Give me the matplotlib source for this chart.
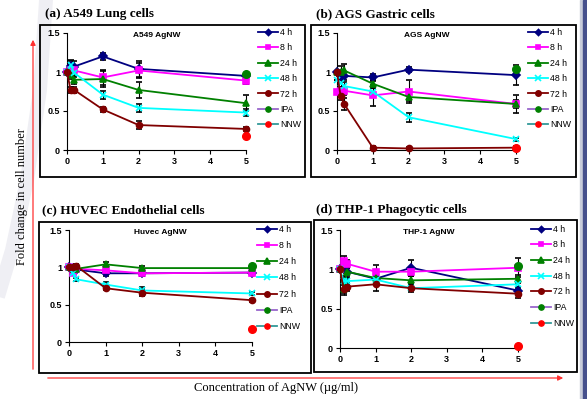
"""
Fold change in cell number vs AgNW concentration, four cell lines.
"""

import matplotlib.pyplot as plt
from matplotlib.lines import Line2D
from matplotlib.patches import Rectangle, FancyArrowPatch

W, H = 587, 399

conc = [0, 0.1, 0.2, 1, 2, 5]
times = ["4 h", "8 h", "24 h", "48 h", "72 h"]

# rows: 4 h, 8 h, 24 h, 48 h, 72 h
a549_mean = [
    [1.00, 1.08, 1.07, 1.20, 1.04, 0.95],
    [1.00, 1.03, 1.02, 0.93, 1.02, 0.89],
    [1.00, 0.96, 0.90, 0.91, 0.77, 0.60],
    [1.00, 1.09, 0.99, 0.71, 0.54, 0.48],
    [1.00, 0.77, 0.77, 0.52, 0.32, 0.27],
]
a549_err = [
    [0, 0.07, 0.07, 0.05, 0.10, 0.03],
    [0, 0.03, 0.03, 0.10, 0.10, 0.05],
    [0, 0.05, 0.05, 0.10, 0.10, 0.10],
    [0, 0.05, 0.05, 0.05, 0.05, 0.04],
    [0, 0.04, 0.04, 0.03, 0.05, 0.03],
]
a549_ipa = 0.97
a549_nnw = 0.18

ags_mean = [
    [1.00, 0.95, 0.95, 0.93, 1.03, 0.96],
    [0.75, 0.76, 0.76, 0.70, 0.75, 0.59],
    [1.00, 1.00, 1.02, 0.85, 0.68, 0.59],
    [0.90, 0.86, 0.82, 0.75, 0.42, 0.14],
    [1.00, 0.69, 0.59, 0.03, 0.02, 0.03],
]
ags_err = [
    [0, 0.05, 0.05, 0.05, 0.03, 0.13],
    [0, 0.05, 0.05, 0.13, 0.15, 0.05],
    [0, 0.08, 0.08, 0.05, 0.05, 0.12],
    [0, 0.05, 0.05, 0.05, 0.06, 0.02],
    [0, 0.05, 0.08, 0.02, 0.02, 0.02],
]
ags_ipa = 1.04
ags_nnw = 0.02

huvec_mean = [
    [1.00, 0.98, 0.97, 0.92, 0.92, 0.93],
    [1.00, 0.92, 0.98, 0.96, 0.92, 0.93],
    [1.00, 0.98, 0.98, 1.04, 0.99, 0.99],
    [1.00, 0.92, 0.84, 0.77, 0.69, 0.65],
    [1.00, 1.00, 1.02, 0.72, 0.66, 0.56],
]
huvec_err = [
    [0, 0.02, 0.02, 0.03, 0.03, 0.03],
    [0, 0.02, 0.02, 0.03, 0.04, 0.03],
    [0, 0.02, 0.02, 0.03, 0.03, 0.02],
    [0, 0.02, 0.02, 0.04, 0.04, 0.02],
    [0, 0.02, 0.02, 0.03, 0.05, 0.02],
]
huvec_ipa = 1.02
huvec_nnw = 0.17

thp1_mean = [
    [1.00, 1.00, 0.97, 0.88, 1.02, 0.73],
    [1.00, 1.10, 1.07, 0.97, 0.97, 1.02],
    [1.00, 0.75, 0.97, 0.89, 0.86, 0.88],
    [1.00, 0.85, 0.85, 0.87, 0.76, 0.81],
    [1.00, 0.75, 0.78, 0.81, 0.76, 0.69],
]
thp1_err = [
    [0, 0.08, 0.08, 0.08, 0.10, 0.05],
    [0, 0.07, 0.05, 0.08, 0.05, 0.12],
    [0, 0.05, 0.05, 0.04, 0.05, 0.05],
    [0, 0.04, 0.04, 0.04, 0.04, 0.04],
    [0, 0.07, 0.05, 0.08, 0.05, 0.06],
]
thp1_ipa = 1.04
thp1_nnw = 0.02

panel_titles = ["(a) A549 Lung cells", "(b) AGS Gastric cells",
                "(c) HUVEC Endothelial cells", "(d) THP-1 Phagocytic cells"]
inner_titles = ["A549 AgNW", "AGS AgNW", "Huvec AgNW", "THP-1 AgNW"]

colors = ["#000080", "#FF00FF", "#008000", "#00FFFF", "#800000"]
markers = ["D", "s", "^", "x", "o"]
msizes = [3.6, 4, 4.5, 4.5, 4.3]

# layout in pixels: box (x0, y0, x1, y1), axes (x@0, x@5, y@0, y@1.5), legend (x, first row y, row step)
boxes = [(40, 25, 305, 177), (311, 25, 576, 177), (39, 222, 311, 373), (314, 220, 577, 372)]
axes_px = [(67, 246, 150, 33), (337, 516, 150, 33), (69, 252, 342, 230), (340, 518, 348, 230)]
legend_px = [(258, 33, 15.2), (528, 33, 15.2), (257, 230, 16), (531, 230, 15.4)]
title_px = [(45, 14), (316, 14), (42, 210), (316, 210)]

SANS = "Liberation Sans"
SERIF = "Liberation Serif"


def fx(px):
    return px / W


def fy(py):
    return 1 - py / H


fig = plt.figure(figsize=(W / 100, H / 100), dpi=100)

# slide decoration: faint swoosh on the left, blue bar on the right
fig.add_artist(Line2D([fx(46), fx(40), fx(27), fx(12), fx(0)],
                      [fy(0), fy(90), fy(180), fy(250), fy(290)],
                      color="#EFEFF4", lw=10, transform=fig.transFigure, zorder=0))
fig.add_artist(Rectangle((fx(580), 0), fx(2), 1, color="#C8CCDA", transform=fig.transFigure))
fig.add_artist(Rectangle((fx(583), 0), fx(4), 1, color="#46508C", transform=fig.transFigure))

# red axis arrows
fig.add_artist(FancyArrowPatch((fx(33), fy(372)), (fx(33), fy(37)), transform=fig.transFigure,
                               arrowstyle="-|>,head_length=3,head_width=1.5", color="#FF3030", lw=0.9))
fig.add_artist(FancyArrowPatch((fx(45), fy(378)), (fx(566), fy(378)), transform=fig.transFigure,
                               arrowstyle="-|>,head_length=3,head_width=1.5", color="#FF3030", lw=0.9))

fig.text(fx(22), fy(197), "Fold change in cell number", rotation=90, ha="center", va="center",
         family=SERIF, fontsize=9)
fig.text(fx(276), fy(388), "Concentration of AgNW (\u00b5g/ml)", ha="center", va="center",
         family=SERIF, fontsize=9)

datasets = [
    (a549_mean, a549_err, a549_ipa, a549_nnw),
    (ags_mean, ags_err, ags_ipa, ags_nnw),
    (huvec_mean, huvec_err, huvec_ipa, huvec_nnw),
    (thp1_mean, thp1_err, thp1_ipa, thp1_nnw),
]

for i, (means, errs, ipa, nnw) in enumerate(datasets):
    bx0, by0, bx1, by1 = boxes[i]
    fig.add_artist(Rectangle((fx(bx0), fy(by1)), fx(bx1 - bx0), (by1 - by0) / H,
                             fill=False, ec="black", lw=1.3, transform=fig.transFigure))
    fig.text(fx(title_px[i][0]), fy(title_px[i][1]), panel_titles[i], ha="left", va="center",
             family=SERIF, fontsize=9.5, fontweight="bold")

    x0, x5, y0, y15 = axes_px[i]
    ax = fig.add_axes([fx(x0), fy(y0), (x5 - x0) / W, (y0 - y15) / H])
    ax.set_xlim(0, 5)
    ax.set_ylim(0, 1.5)
    ax.set_facecolor("none")
    for s in ("top", "right"):
        ax.spines[s].set_visible(False)
    for s in ("left", "bottom"):
        ax.spines[s].set_linewidth(0.8)
    ax.set_xticks(range(6))
    ax.set_yticks([0, 0.5, 1, 1.5])
    ax.set_yticklabels(["0", "0.5", "1", "1.5"])
    ax.tick_params(direction="out", length=3, width=0.8, pad=2, labelsize=6.5)
    for lab in ax.get_xticklabels() + ax.get_yticklabels():
        lab.set_family(SANS)
        lab.set_fontweight("bold")
    ax.text(0.5, 0.98, inner_titles[i], transform=ax.transAxes, ha="center", va="center",
            family=SANS, fontsize=6, fontweight="bold")

    handles = []
    for k in range(len(times)):
        ax.errorbar(conc, means[k], yerr=errs[k], color=colors[k], ecolor="black", elinewidth=0.8,
                    capsize=2.5, capthick=0.8, lw=1.3, marker=markers[k], ms=msizes[k],
                    mew=1.2, clip_on=False, zorder=3)
        handles.append(Line2D([], [], color=colors[k], lw=1.3, marker=markers[k], ms=msizes[k] - 0.5,
                              mew=1.2))
    ax.plot([5], [ipa], "o", color="#008000", ms=5.5, clip_on=False, zorder=4)
    ax.plot([5], [nnw], "o", color="#FF0000", ms=5.5, clip_on=False, zorder=4)
    handles.append(Line2D([], [], color="#9966CC", lw=1.3, marker="o", ms=3.8, mfc="#008000", mec="#008000"))
    handles.append(Line2D([], [], color="#339999", lw=1.3, marker="o", ms=3.8, mfc="#FF0000", mec="#FF0000"))

    lx, ly, step = legend_px[i]
    fs = 6.3
    fs_px = fs * 100 / 72
    fig.legend(handles, times + ["IPA", "NNW"], loc="upper left",
               bbox_to_anchor=(fx(lx), fy(ly - fs_px * 0.6)), bbox_transform=fig.transFigure,
               frameon=False, borderpad=0, borderaxespad=0, handlelength=2.3, handletextpad=0.2,
               labelspacing=(step - fs_px) / fs_px, prop={"family": SANS, "size": fs})

fig.savefig("out.png", dpi=100)
